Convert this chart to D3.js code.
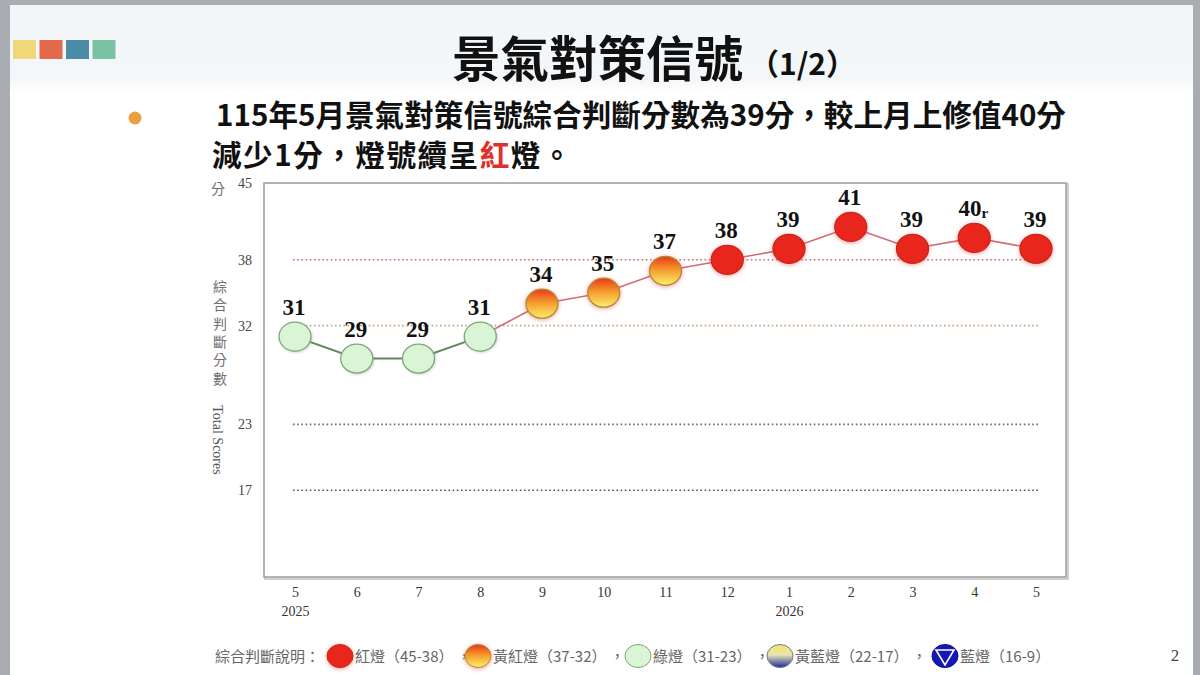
<!DOCTYPE html>
<html>
<head>
<meta charset="utf-8">
<script src="https://cdn.jsdelivr.net/npm/d3@7"></script>
<style>
  body { margin: 0; background: #a9adb2; }
  svg { display: block; }
</style>
</head>
<body>
<script>
// data
var months = ["5", "6", "7", "8", "9", "10", "11", "12", "1", "2", "3", "4", "5"];
var years = ["2025", "", "", "", "", "", "", "", "2026", "", "", "", ""];
var scores = [31, 29, 29, 31, 34, 35, 37, 38, 39, 41, 39, 40, 39];
var revised = [false, false, false, false, false, false, false, false, false, false, false, true, false];
var yTicks = [45, 38, 32, 23, 17];
var bandLines = [38, 32, 23, 17];
var legendNames = ["紅燈（45-38）", "黃紅燈（37-32）", "綠燈（31-23）", "黃藍燈（22-17）", "藍燈（16-9）"];
var legendKeys = ["red", "yr", "green", "yb", "blue"];

function lightOf(v) {
  if (v >= 38) return "red";
  if (v >= 32) return "yr";
  if (v >= 23) return "green";
  if (v >= 17) return "yb";
  return "blue";
}

var W = 1200, H = 675;
var svg = d3.select("body").append("svg").attr("width", W).attr("height", H);
var defs = svg.append("defs");

var gYR = defs.append("linearGradient").attr("id", "gYR").attr("x1", 0).attr("y1", 0).attr("x2", 0).attr("y2", 1);
gYR.append("stop").attr("offset", "0%").attr("stop-color", "#e8381a");
gYR.append("stop").attr("offset", "45%").attr("stop-color", "#f5982c");
gYR.append("stop").attr("offset", "100%").attr("stop-color", "#fbf06a");

var gYB = defs.append("linearGradient").attr("id", "gYB").attr("x1", 0).attr("y1", 0).attr("x2", 0).attr("y2", 1);
gYB.append("stop").attr("offset", "0%").attr("stop-color", "#f2e468");
gYB.append("stop").attr("offset", "45%").attr("stop-color", "#e8e4b0");
gYB.append("stop").attr("offset", "100%").attr("stop-color", "#1a2aa0");

var gHead = defs.append("linearGradient").attr("id", "gHead").attr("x1", 0).attr("y1", 0).attr("x2", 0).attr("y2", 1);
gHead.append("stop").attr("offset", "0%").attr("stop-color", "#f3f6f9");
gHead.append("stop").attr("offset", "85%").attr("stop-color", "#f4f7f9");
gHead.append("stop").attr("offset", "100%").attr("stop-color", "#ffffff");

var glow = defs.append("filter").attr("id", "glow").attr("x", "-50%").attr("y", "-50%").attr("width", "200%").attr("height", "200%");
glow.append("feDropShadow").attr("dx", 0).attr("dy", 1).attr("stdDeviation", 2.2).attr("flood-color", "#e05050").attr("flood-opacity", 0.55);

var soft = defs.append("filter").attr("id", "soft").attr("x", "-50%").attr("y", "-50%").attr("width", "200%").attr("height", "200%");
soft.append("feDropShadow").attr("dx", 1).attr("dy", 1).attr("stdDeviation", 1.2).attr("flood-color", "#888").attr("flood-opacity", 0.35);

var fills = { red: "#e8281e", yr: "url(#gYR)", green: "#daf5d6", yb: "url(#gYB)", blue: "#1418b4" };
var strokes = { red: "#c8251a", yr: "#b08a3a", green: "#7da87c", yb: "#7a7a90", blue: "#10108a" };

// slide
svg.append("rect").attr("x", 10).attr("y", 5).attr("width", 1183).attr("height", H - 5).attr("fill", "#ffffff");
svg.append("rect").attr("x", 10).attr("y", 5).attr("width", 1183).attr("height", 88).attr("fill", "url(#gHead)");

var squares = ["#f0d878", "#e2694a", "#4a8ba8", "#79c2a2"];
svg.selectAll("rect.sq").data(squares).enter().append("rect")
  .attr("class", "sq")
  .attr("x", function(d, i){ return 13 + i * 26.5; })
  .attr("y", 40).attr("width", 23).attr("height", 19)
  .attr("fill", function(d){ return d; });

var title = svg.append("text").attr("x", 452).attr("y", 77)
  .attr("font-family", "'Noto Sans CJK TC', sans-serif").attr("font-weight", "bold")
  .attr("fill", "#111");
title.append("tspan").attr("font-size", 48.5).text("景氣對策信號");
title.append("tspan").attr("font-size", 30).attr("dy", -2).attr("dx", 6).text("（1/2）");

svg.append("circle").attr("cx", 135).attr("cy", 118).attr("r", 6.5).attr("fill", "#e9a040");

// two lines of the statement, kept as separate text rows
var sub = svg.append("g").attr("font-family", "'Noto Sans CJK TC', sans-serif")
  .attr("font-weight", "bold").attr("font-size", 29.6).attr("fill", "#111");
sub.append("text").attr("x", 216).attr("y", 126)
  .text("115年5月景氣對策信號綜合判斷分數為39分，較上月上修值40分");
var l2 = sub.append("text").attr("x", 212).attr("y", 166).attr("letter-spacing", 1.5);
l2.append("tspan").text("減少1分，燈號續呈");
l2.append("tspan").attr("fill", "#e0302a").text("紅");
l2.append("tspan").text("燈。");

// chart
var x = d3.scalePoint().domain(d3.range(scores.length)).range([295, 1036]);
var y = d3.scaleLinear().domain([9, 45]).range([578, 183]);

svg.append("rect").attr("x", 265).attr("y", 184).attr("width", 803).attr("height", 395)
  .attr("fill", "none").attr("stroke", "#cfcfcf").attr("stroke-width", 2);
svg.append("rect").attr("x", 264).attr("y", 183).attr("width", 802).attr("height", 394)
  .attr("fill", "#fff").attr("stroke", "#9a9a9a").attr("stroke-width", 1.5);

var bandColor = { 38: "#c76a6a", 32: "#c7a484", 23: "#5d7568", 17: "#50565e" };
svg.selectAll("line.band").data(bandLines).enter().append("line")
  .attr("class", "band")
  .attr("x1", x(0) - 2).attr("x2", x(scores.length - 1) + 2)
  .attr("y1", function(d){ return y(d); }).attr("y2", function(d){ return y(d); })
  .attr("stroke", function(d){ return bandColor[d]; })
  .attr("stroke-width", 1.6).attr("stroke-dasharray", "1.6,2.6");

var yAxis = svg.append("g").attr("transform", "translate(252,0)")
  .call(d3.axisLeft(y).tickValues(yTicks).tickSize(0).tickPadding(0));
yAxis.select(".domain").remove();
yAxis.selectAll("text").attr("font-family", "'Liberation Serif', serif").attr("font-size", 14).attr("fill", "#444");

var xAxis = svg.append("g").attr("transform", "translate(0,578)")
  .call(d3.axisBottom(x).tickSize(0).tickPadding(9).tickFormat(function(i){ return months[i]; }));
xAxis.select(".domain").remove();
xAxis.selectAll("text").attr("font-family", "'Liberation Serif', serif").attr("font-size", 14).attr("fill", "#333");
xAxis.selectAll(".tick").append("text")
  .attr("y", 38).attr("fill", "#333")
  .attr("font-family", "'Liberation Serif', serif").attr("font-size", 14)
  .text(function(i){ return years[i]; });

// y title
var yt = svg.append("g").attr("font-family", "'Noto Sans CJK TC', sans-serif").attr("font-size", 14).attr("fill", "#707070");
yt.append("text").attr("x", 218).attr("y", 194).attr("text-anchor", "middle").text("分");
yt.selectAll("text.vc").data("綜合判斷分數".split("")).enter().append("text")
  .attr("class", "vc").attr("x", 220).attr("text-anchor", "middle")
  .attr("y", function(d, i){ return 292 + i * 18.3; }).text(function(d){ return d; });
svg.append("text").attr("transform", "translate(213,440) rotate(90)")
  .attr("text-anchor", "middle").attr("font-family", "'Liberation Serif', serif")
  .attr("font-size", 14).attr("fill", "#555").text("Total Scores");

// line segments
var segs = d3.range(scores.length - 1).map(function(i){ return [i, i + 1]; });
svg.selectAll("line.seg").data(segs).enter().append("line")
  .attr("class", "seg")
  .attr("x1", function(d){ return x(d[0]); }).attr("y1", function(d){ return y(scores[d[0]]); })
  .attr("x2", function(d){ return x(d[1]); }).attr("y2", function(d){ return y(scores[d[1]]); })
  .attr("stroke", function(d){
    return (lightOf(scores[d[0]]) == "green" && lightOf(scores[d[1]]) == "green") ? "#5e8a5e" : "#d46a78";
  })
  .attr("stroke-width", function(d){
    return (lightOf(scores[d[0]]) == "green" && lightOf(scores[d[1]]) == "green") ? 2 : 1.6;
  });

// points
svg.selectAll("ellipse.pt").data(scores).enter().append("ellipse")
  .attr("class", "pt")
  .attr("cx", function(d, i){ return x(i); }).attr("cy", function(d){ return y(d); })
  .attr("rx", 16).attr("ry", 14.5)
  .attr("fill", function(d){ return fills[lightOf(d)]; })
  .attr("stroke", function(d){ return strokes[lightOf(d)]; })
  .attr("stroke-width", 1.3)
  .attr("filter", function(d){ return lightOf(d) == "green" ? "url(#soft)" : "url(#glow)"; });

var labels = svg.selectAll("text.lab").data(scores).enter().append("text")
  .attr("class", "lab")
  .attr("x", function(d, i){ return x(i) - 1; }).attr("y", function(d){ return y(d) - 22; })
  .attr("text-anchor", "middle")
  .attr("font-family", "'Liberation Serif', serif").attr("font-weight", "bold")
  .attr("font-size", 23).attr("fill", "#111");
labels.append("tspan").text(function(d){ return d; });
labels.filter(function(d, i){ return revised[i]; }).append("tspan")
  .attr("font-size", 15).attr("dy", 2).text("r");

// legend
var lg = svg.append("g").attr("font-family", "'Noto Sans CJK TC', sans-serif").attr("font-size", 15).attr("fill", "#666");
lg.append("text").attr("x", 215).attr("y", 662).text("綜合判斷說明：");
var legX = [340, 478, 638, 780, 945];
var item = lg.selectAll("g.item").data(legendKeys).enter().append("g").attr("class", "item")
  .attr("transform", function(d, i){ return "translate(" + legX[i] + ",656)"; });
item.append("ellipse").attr("rx", 13).attr("ry", 11.5)
  .attr("fill", function(d){ return fills[d]; })
  .attr("stroke", function(d){ return strokes[d]; }).attr("stroke-width", 1)
  .attr("filter", function(d){ return d == "red" || d == "yr" ? "url(#glow)" : null; });
item.filter(function(d){ return d == "blue"; }).append("path")
  .attr("d", "M-9,-6 L9,-6 L0,9 Z").attr("fill", "none").attr("stroke", "#fff").attr("stroke-width", 1.6);
item.append("text").attr("x", 15).attr("y", 6)
  .text(function(d, i){ return legendNames[i] + (i < legendNames.length - 1 ? " ，" : ""); });

svg.append("text").attr("x", 1175).attr("y", 661).attr("text-anchor", "middle")
  .attr("font-family", "'Liberation Serif', serif").attr("font-size", 17).attr("fill", "#444").text("2");
</script>
</body>
</html>
